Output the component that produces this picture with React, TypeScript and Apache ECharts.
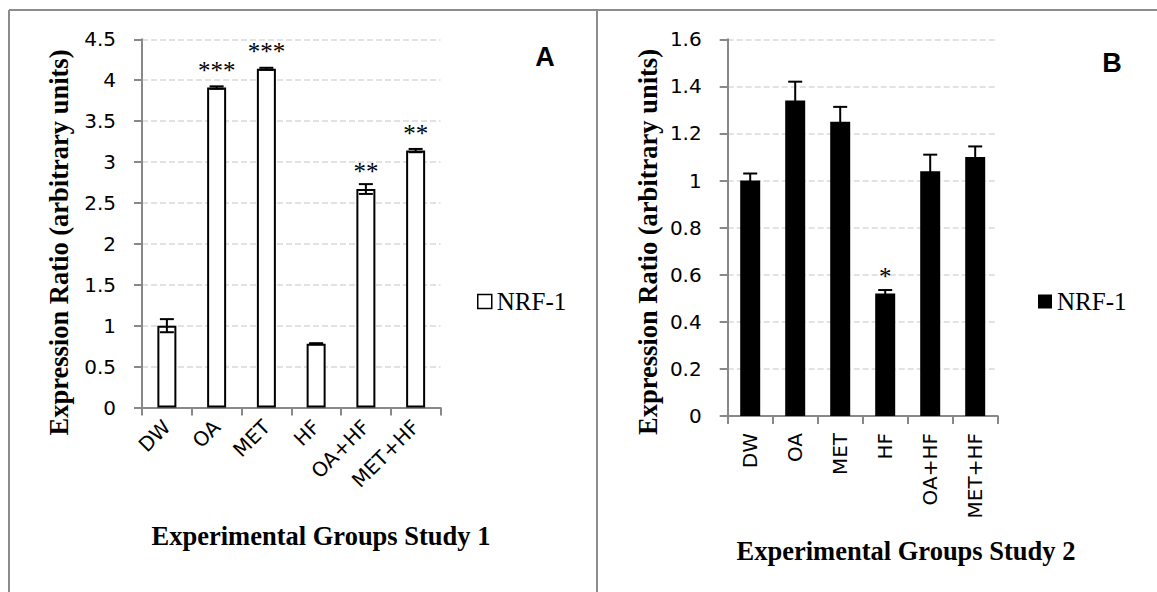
import React, { useEffect, useRef } from 'react';
import * as echarts from 'echarts';

const categories = ['DW', 'OA', 'MET', 'HF', 'OA+HF', 'MET+HF'];

const study1Values = [1.0, 3.91, 4.14, 0.78, 2.67, 3.14];
const study1Errors = [0.08, 0.015, 0.012, 0.006, 0.06, 0.02];
const study1Stars = ['', '***', '***', '', '**', '**'];

const study2Values = [1.0, 1.34, 1.25, 0.52, 1.04, 1.1];
const study2Errors = [0.03, 0.08, 0.063, 0.015, 0.07, 0.045];
const study2Stars = ['', '', '', '*', '', ''];

const study1Axis = { min: 0, max: 4.5, interval: 0.5 };
const study2Axis = { min: 0, max: 1.6, interval: 0.2 };

const seriesName = 'NRF-1';
const yTitle = 'Expression Ratio (arbitrary units)';
const xTitle1 = 'Experimental Groups Study 1';
const xTitle2 = 'Experimental Groups Study 2';

const AXIS_GRAY = '#888888';
const FRAME_GRAY = '#8c8c8c';
const GRID_GRAY = '#d9d9d9';
const SANS = 'DejaVu Sans';
const SERIF = 'Liberation Serif';

const errorRenderItem = (params: any, api: any) => {
  const idx = api.value(0);
  const v = api.value(1);
  const e = api.value(2);
  const top = api.coord([idx, v + e]);
  const bot = api.coord([idx, v - e]);
  const hw = 7;
  const style = { stroke: '#000', lineWidth: 2 };
  return {
    type: 'group',
    children: [
      { type: 'line', shape: { x1: top[0], y1: top[1], x2: bot[0], y2: bot[1] }, style },
      { type: 'line', shape: { x1: top[0] - hw, y1: top[1], x2: top[0] + hw, y2: top[1] }, style },
      { type: 'line', shape: { x1: bot[0] - hw, y1: bot[1], x2: bot[0] + hw, y2: bot[1] }, style },
    ],
  };
};

function makeXAxis(gridIndex: number, rotate: number, margin: number) {
  return {
    type: 'category',
    gridIndex,
    data: categories,
    axisLine: { show: true, lineStyle: { color: AXIS_GRAY, width: 2 } },
    axisTick: { show: true, length: 8, lineStyle: { color: AXIS_GRAY, width: 2 } },
    axisLabel: {
      interval: 0,
      rotate,
      margin,
      color: '#000',
      fontFamily: SANS,
      fontSize: 20,
    },
    splitLine: { show: false },
  };
}

function makeYAxis(gridIndex: number, cfg: { min: number; max: number; interval: number }) {
  return {
    type: 'value',
    gridIndex,
    min: cfg.min,
    max: cfg.max,
    interval: cfg.interval,
    axisLine: { show: true, lineStyle: { color: AXIS_GRAY, width: 2 } },
    axisTick: { show: true, length: 8, lineStyle: { color: AXIS_GRAY, width: 2 } },
    axisLabel: { margin: 26, color: '#000', fontFamily: SANS, fontSize: 20 },
    splitLine: { show: true, lineStyle: { color: GRID_GRAY, width: 1.5, type: [6, 3] } },
  };
}

export default function App() {
  const ref = useRef<HTMLDivElement>(null);

  useEffect(() => {
    document.body.style.margin = '0';
    document.body.style.overflow = 'hidden';
    if (!ref.current) return;
    const chart = echarts.init(ref.current, null, { renderer: 'svg' });

    const option: any = {
      animation: false,
      backgroundColor: '#fff',
      grid: [
        { left: 142, top: 39.3, width: 298.5, height: 368.2 },
        { left: 727.7, top: 39.3, width: 270, height: 376.7 },
      ],
      xAxis: [makeXAxis(0, 45, 16), makeXAxis(1, 90, 17)],
      yAxis: [makeYAxis(0, study1Axis), makeYAxis(1, study2Axis)],
      legend: [
        {
          left: 477,
          top: 289,
          padding: 0,
          itemWidth: 14,
          itemHeight: 14,
          icon: 'rect',
          selectedMode: false,
          textStyle: { fontFamily: SERIF, fontSize: 25, color: '#000' },
          data: [{ name: seriesName, itemStyle: { color: '#fff', borderColor: '#000', borderWidth: 1.5 } }],
        },
        {
          left: 1038,
          top: 289,
          padding: 0,
          itemWidth: 14,
          itemHeight: 14,
          icon: 'rect',
          selectedMode: false,
          textStyle: { fontFamily: SERIF, fontSize: 25, color: '#000' },
          data: [{ name: seriesName, itemStyle: { color: '#000', borderColor: '#000', borderWidth: 0 } }],
        },
      ],
      series: [
        {
          name: seriesName,
          type: 'bar',
          xAxisIndex: 0,
          yAxisIndex: 0,
          barWidth: 19,
          data: study1Values,
          itemStyle: { color: '#fff', borderColor: '#000', borderWidth: 2 },
          label: {
            show: true,
            position: 'top',
            distance: 5,
            fontFamily: SERIF,
            fontSize: 25,
            color: '#000',
            formatter: (p: any) => study1Stars[p.dataIndex],
          },
        },
        {
          name: seriesName + ' error',
          type: 'custom',
          xAxisIndex: 0,
          yAxisIndex: 0,
          renderItem: errorRenderItem,
          data: study1Values.map((v, i) => [i, v, study1Errors[i]]),
          z: 5,
        },
        {
          name: seriesName,
          type: 'bar',
          xAxisIndex: 1,
          yAxisIndex: 1,
          barWidth: 20,
          data: study2Values,
          itemStyle: { color: '#000' },
          label: {
            show: true,
            position: 'top',
            distance: 5,
            fontFamily: SERIF,
            fontSize: 25,
            color: '#000',
            formatter: (p: any) => study2Stars[p.dataIndex],
          },
        },
        {
          name: seriesName + ' error 2',
          type: 'custom',
          xAxisIndex: 1,
          yAxisIndex: 1,
          renderItem: errorRenderItem,
          data: study2Values.map((v, i) => [i, v, study2Errors[i]]),
          z: 5,
        },
      ],
      graphic: [
        { type: 'line', shape: { x1: 9, y1: 10, x2: 1157, y2: 10 }, style: { stroke: FRAME_GRAY, lineWidth: 2 } },
        { type: 'line', shape: { x1: 9, y1: 10, x2: 9, y2: 592 }, style: { stroke: FRAME_GRAY, lineWidth: 2 } },
        { type: 'line', shape: { x1: 597, y1: 10, x2: 597, y2: 592 }, style: { stroke: FRAME_GRAY, lineWidth: 2 } },
        {
          type: 'text', x: 59, y: 242.5, rotation: Math.PI / 2,
          style: { text: yTitle, fontFamily: SERIF, fontWeight: 'bold', fontSize: 26.5, fill: '#000', textAlign: 'center', textVerticalAlign: 'middle' },
        },
        {
          type: 'text', x: 647.5, y: 242, rotation: Math.PI / 2,
          style: { text: yTitle, fontFamily: SERIF, fontWeight: 'bold', fontSize: 26.5, fill: '#000', textAlign: 'center', textVerticalAlign: 'middle' },
        },
        {
          type: 'text', x: 321, y: 536,
          style: { text: xTitle1, fontFamily: SERIF, fontWeight: 'bold', fontSize: 26.5, fill: '#000', textAlign: 'center', textVerticalAlign: 'middle' },
        },
        {
          type: 'text', x: 906, y: 551,
          style: { text: xTitle2, fontFamily: SERIF, fontWeight: 'bold', fontSize: 26.5, fill: '#000', textAlign: 'center', textVerticalAlign: 'middle' },
        },
        {
          type: 'text', x: 545, y: 57,
          style: { text: 'A', fontFamily: 'Liberation Sans', fontWeight: 'bold', fontSize: 27, fill: '#000', textAlign: 'center', textVerticalAlign: 'middle' },
        },
        {
          type: 'text', x: 1112, y: 63,
          style: { text: 'B', fontFamily: 'Liberation Sans', fontWeight: 'bold', fontSize: 27, fill: '#000', textAlign: 'center', textVerticalAlign: 'middle' },
        },
      ],
    };

    chart.setOption(option);
    return () => chart.dispose();
  }, []);

  return <div ref={ref} style={{ width: 1157, height: 592 }} />;
}
